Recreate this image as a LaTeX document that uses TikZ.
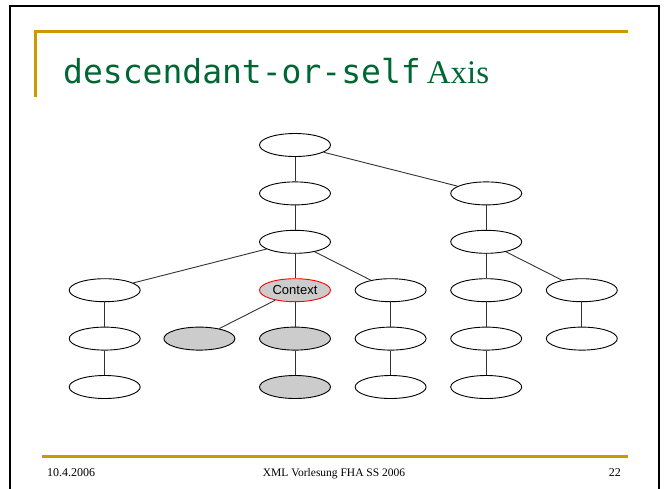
\documentclass[tikz,border=0pt]{standalone}
\usepackage{fontspec}
\setmainfont{Liberation Serif}
\newfontfamily\titlemono{DejaVu Sans Mono}
\newfontfamily\labelsans{Liberation Sans}
\usetikzlibrary{positioning,shapes.geometric}

\definecolor{slidegold}{RGB}{204,153,0}
\definecolor{slidegreen}{RGB}{0,102,51}
\definecolor{hitgray}{RGB}{204,204,204}

\begin{document}
\begin{tikzpicture}[x=1pt,y=-1pt,
  node distance=24.5pt and 23.7pt,
  xnode/.style={ellipse, draw, line width=0.9pt, minimum width=71pt, minimum height=23pt, inner sep=0pt},
  hit/.style={xnode, fill=hitgray},
  ctxnode/.style={hit, draw=red, font=\labelsans\fontsize{13}{13}\selectfont},
  link/.style={draw=black!80, line width=0.9pt},
  bar/.style={draw=slidegold, line width=3pt}]
   \useasboundingbox (0,0) rectangle (667,488);

   % slide frame
   \draw[line width=2.5pt] (10,495) -- (10,6) -- (659,6) -- (659,495);
   \coordinate (tl) at (35,31.5) ;
   \coordinate (tr) at (628,31.5) ;
   \coordinate (tb) at (35,97) ;
   \draw[bar] (tb) -- (tl.center) -- (tr) ;
   \node[anchor=base west, inner sep=0pt, text=slidegreen, font=\fontsize{33}{33}\selectfont]
        (title) at (63,83) {{\titlemono descendant-or-self}\kern6pt Axis} ;

   % tree
   \node[xnode]                        (r)   at (295,145) {} ; %
   \node[xnode, below=of r]            (a)   {} ; %
   \node[xnode, below=of a]            (c)   {} ; %
   \node[ctxnode, below=of c]          (ctx) {Context} ; %
   \node[xnode, left=118.4pt of ctx]   (d)   {} ; %
   \node[xnode, right=of ctx]          (e)   {} ; %
   \node[xnode, right=of e]            (f)   {} ; %
   \node[xnode, right=of f]            (h)   {} ; %
   \node[xnode, above=of f]            (b1)  {} ; %
   \node[xnode, above=of b1]           (b)   {} ; %

   \node[hit, below=of ctx]            (g2)  {} ; %
   \node[hit, left=of g2]              (g1)  {} ; %
   \node[hit, below=of g2]             (g3)  {} ; %
   \node[xnode, below=of d]            (d1)  {} ; %
   \node[xnode, below=of d1]           (d2)  {} ; %
   \node[xnode, below=of e]            (e1)  {} ; %
   \node[xnode, below=of e1]           (e2)  {} ; %
   \node[xnode, below=of f]            (f1)  {} ; %
   \node[xnode, below=of f1]           (f2)  {} ; %
   \node[xnode, below=of h]            (h1)  {} ; %

  \draw[link] (r) -- (a) ;
  \draw[link] (r) -- (b) ;
  \draw[link] (a) -- (c) ;
  \draw[link] (c) -- (d) ;
  \draw[link] (c) -- (ctx) ;
  \draw[link] (c) -- (e) ;
  \draw[link] (d) -- (d1) ;
  \draw[link] (d1) -- (d2) ;
  \draw[link] (ctx) -- (g1) ;
  \draw[link] (ctx) -- (g2) ;
  \draw[link] (g2) -- (g3) ;
  \draw[link] (e) -- (e1) ;
  \draw[link] (e1) -- (e2) ;
  \draw[link] (b) -- (b1) ;
  \draw[link] (b1) -- (f) ;
  \draw[link] (b1) -- (h) ;
  \draw[link] (f) -- (f1) ;
  \draw[link] (f1) -- (f2) ;
  \draw[link] (h) -- (h1) ;

   % footer
   \coordinate (fl) at (42,456) ;
   \coordinate (fr) at (628,456) ;
   \draw[bar] (fl) -- (fr) ;
   \node[anchor=base west, inner sep=0pt, font=\fontsize{12}{12}\selectfont] (date) at (47,476.5) {10.4.2006} ;
   \node[anchor=base, inner sep=0pt, font=\fontsize{11.5}{12}\selectfont] (course) at (334,476.5) {XML Vorlesung FHA SS 2006} ;
   \node[anchor=base east, inner sep=0pt, font=\fontsize{12}{12}\selectfont] (page) at (621,476.5) {22} ;

\end{tikzpicture}
\end{document}
